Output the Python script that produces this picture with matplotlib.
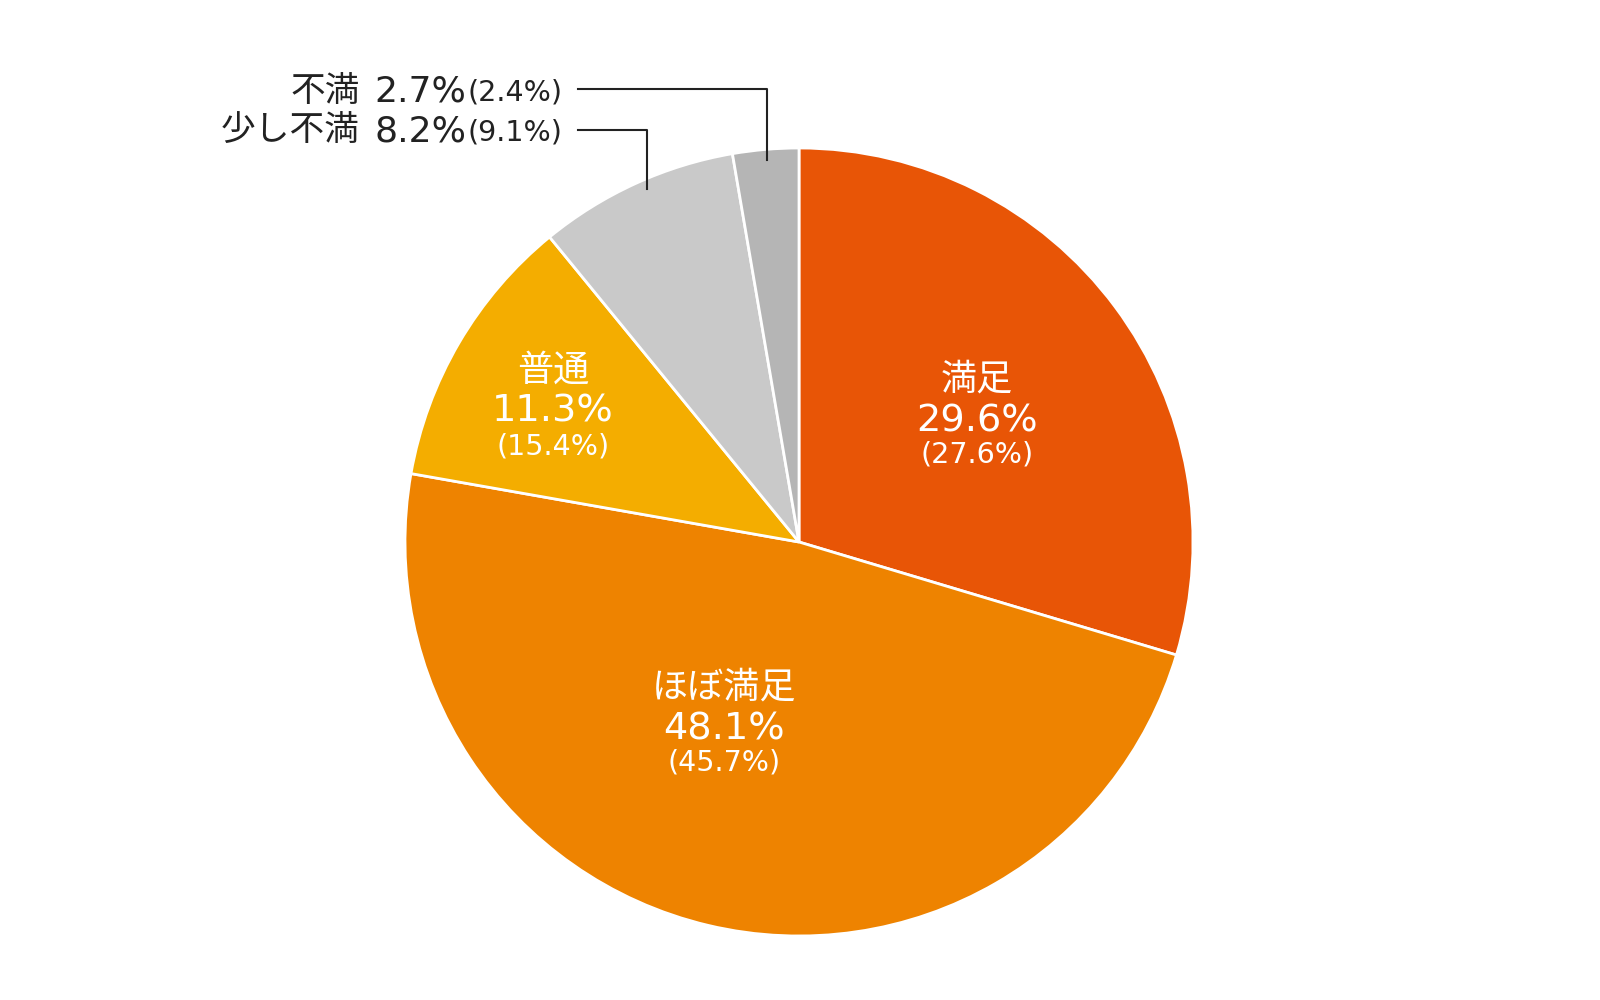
import matplotlib
matplotlib.use("Agg")
import matplotlib.pyplot as plt

labels = ["満足", "ほぼ満足", "普通", "少し不満", "不満"]
values = [29.6, 48.1, 11.3, 8.2, 2.7]
prev_values = [27.6, 45.7, 15.4, 9.1, 2.4]
colors = ["#E85506", "#EE8300", "#F4AD00", "#C9C9C9", "#B5B5B5"]

FAM = ["DejaVu Sans", "Noto Sans CJK JP"]
plt.rcParams["font.family"] = FAM

fig = plt.figure(figsize=(16, 10), dpi=100)
ax = fig.add_axes([0, 0, 1, 1])

cx, cy, r = 799, 1000 - 542, 394
ax.pie(values, colors=colors, startangle=90, counterclock=False,
       center=(cx, cy), radius=r, frame=True,
       wedgeprops=dict(edgecolor="white", linewidth=2))
ax.set_xlim(0, 1600)
ax.set_ylim(0, 1000)
ax.set_aspect("equal")
ax.axis("off")

# inner labels: x center and baseline of percentage (pixel coords, top-origin)
inner = {0: (977, 431), 1: (724, 739), 2: (553, 422)}
for i, (x, yb) in inner.items():
    ax.text(x, 1000 - (yb - 41), labels[i], ha="center", va="baseline", color="white",
            fontsize=26, family="Noto Sans CJK JP")
    ax.text(x, 1000 - yb, f"{values[i]:.1f}%", ha="center", va="baseline", color="white",
            fontsize=27.5)
    ax.text(x, 1000 - (yb + 32), f"({prev_values[i]:.1f}%)", ha="center", va="baseline",
            color="white", fontsize=20.5)

# outer labels
fig.canvas.draw()
renderer = fig.canvas.get_renderer()
outer = {4: (101, 89, 767, 160), 3: (141, 130, 647, 189)}
for i, (base, ly, lx, ly2) in outer.items():
    t = ax.text(562, 1000 - base, f"({prev_values[i]:.1f}%)", ha="right", va="baseline",
                color="#222222", fontsize=20.5)
    bb = t.get_window_extent(renderer=renderer)
    x_left = ax.transData.inverted().transform((bb.x0, bb.y0))[0]
    t2 = ax.text(x_left - 1, 1000 - base, f"{values[i]:.1f}%", ha="right", va="baseline",
                 color="#222222", fontsize=26)
    bb2 = t2.get_window_extent(renderer=renderer)
    x_left2 = ax.transData.inverted().transform((bb2.x0, bb2.y0))[0]
    ax.text(x_left2 - 14, 1000 - base, labels[i], ha="right", va="baseline",
            color="#222222", fontsize=25, family="Noto Sans CJK JP")
    ax.plot([578, lx, lx], [1000 - ly, 1000 - ly, 1000 - ly2], color="#222222", linewidth=1.5)

fig.savefig("out.png", dpi=100, facecolor="white")
